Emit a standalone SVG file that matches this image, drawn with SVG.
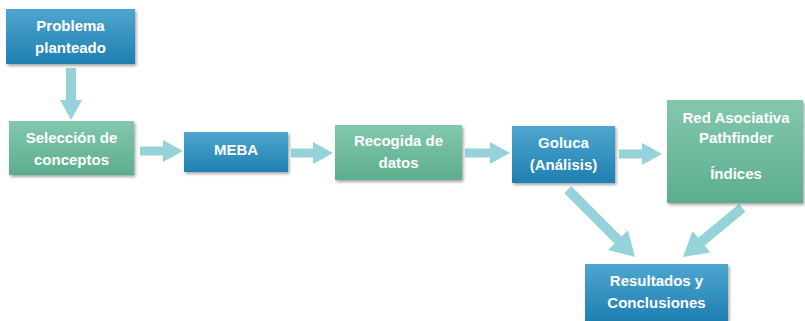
<svg xmlns="http://www.w3.org/2000/svg" width="805" height="321" viewBox="0 0 805 321">
<defs>
<linearGradient id="gb" x1="0" y1="0" x2="0" y2="1"><stop offset="0" stop-color="#4ea6cf"/><stop offset="1" stop-color="#1f7fb1"/></linearGradient>
<linearGradient id="gg" x1="0" y1="0" x2="0" y2="1"><stop offset="0" stop-color="#83c8ae"/><stop offset="1" stop-color="#5cad8d"/></linearGradient>
<filter id="sh" x="-10%" y="-10%" width="125%" height="130%"><feDropShadow dx="1.5" dy="2" stdDeviation="1.5" flood-color="#000" flood-opacity="0.35"/></filter>
<style>
.b{fill:url(#gb);filter:url(#sh)}
.g{fill:url(#gg);filter:url(#sh)}
.t{font-family:"Liberation Sans",Arial,sans-serif;font-weight:bold;font-size:15px;fill:#fff;text-anchor:middle}
.a{fill:#95d2da}
</style>
</defs>
<g id="connectors">
<polygon class="a" points="0,0 -20,-11 -20,-5 -52,-5 -52,5 -20,5 -20,11" transform="translate(71,120) rotate(90)"/>
<polygon class="a" points="0,0 -20,-11 -20,-4.5 -43,-4.5 -43,4.5 -20,4.5 -20,11" transform="translate(183,151)"/>
<polygon class="a" points="0,0 -20,-11 -20,-4.5 -42,-4.5 -42,4.5 -20,4.5 -20,11" transform="translate(333,153)"/>
<polygon class="a" points="0,0 -20,-11 -20,-4.5 -45,-4.5 -45,4.5 -20,4.5 -20,11" transform="translate(510,153)"/>
<polygon class="a" points="0,0 -20,-11 -20,-4.5 -43,-4.5 -43,4.5 -20,4.5 -20,11" transform="translate(662,154)"/>
<polygon class="a" points="0,0 -24,-14 -24,-5 -95,-5 -95,5 -24,5 -24,14" transform="translate(635,257) rotate(45)"/>
<polygon class="a" points="0,0 -24,-14 -24,-5 -77,-5 -77,5 -24,5 -24,14" transform="translate(683,257) rotate(140.3)"/>
</g>
<g id="problema"><rect class="b" x="6" y="9" width="129" height="55"/><text class="t" x="70.5" y="31">Problema</text><text class="t" x="70.5" y="53">planteado</text></g>
<g id="seleccion"><rect class="g" x="9" y="121" width="125" height="54"/><text class="t" x="71.5" y="143">Selección de</text><text class="t" x="71.5" y="165">conceptos</text></g>
<g id="meba"><rect class="b" x="184" y="132" width="104" height="40"/><text class="t" x="236" y="155">MEBA</text></g>
<g id="recogida"><rect class="g" x="335" y="125" width="127" height="55"/><text class="t" x="398.5" y="146">Recogida de</text><text class="t" x="398.5" y="168">datos</text></g>
<g id="goluca"><rect class="b" x="512" y="126" width="103" height="57"/><text class="t" x="563.5" y="148">Goluca</text><text class="t" x="563.5" y="170">(Análisis)</text></g>
<g id="red"><rect class="g" x="667" y="100" width="136" height="103"/><text class="t" x="736" y="123">Red Asociativa</text><text class="t" x="736" y="143">Pathfinder</text><text class="t" x="736" y="179">Índices</text></g>
<g id="resultados"><rect class="b" x="585" y="264" width="143" height="57"/><text class="t" x="656.5" y="286">Resultados y</text><text class="t" x="656.5" y="308">Conclusiones</text></g>
</svg>
